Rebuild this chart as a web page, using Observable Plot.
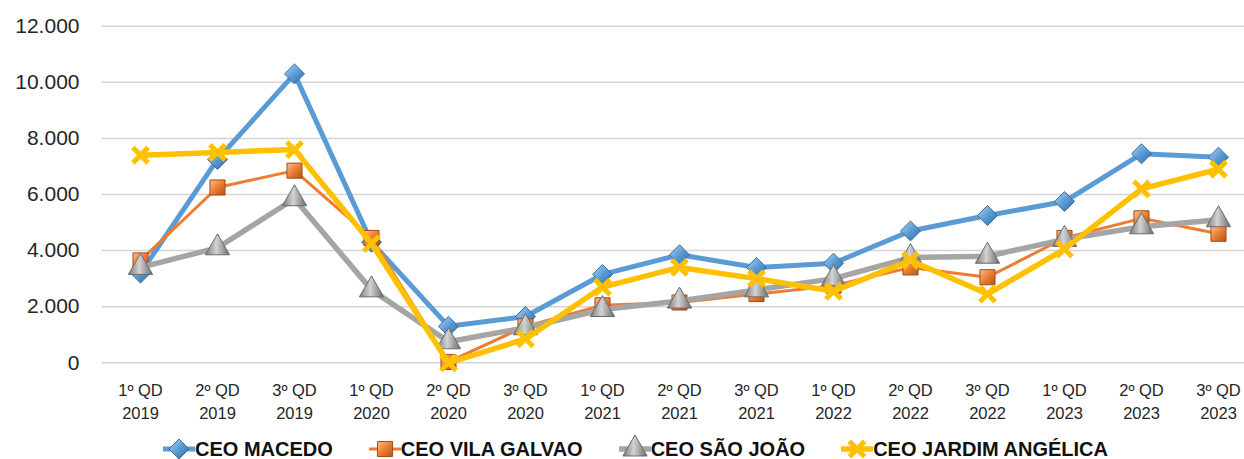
<!DOCTYPE html>
<html><head><meta charset="utf-8">
<script src="https://cdn.jsdelivr.net/npm/d3@7"></script>
<script src="https://cdn.jsdelivr.net/npm/@observablehq/plot@0.6"></script>
<style>
html,body{margin:0;padding:0;background:#fff;overflow:hidden;width:1244px;height:459px;position:relative;}
#chart svg{display:block;overflow:hidden;}
#legend{position:absolute;left:163px;top:434px;height:30px;display:flex;align-items:center;
  font-family:"Liberation Sans",Arial,sans-serif;font-weight:bold;font-size:20px;line-height:30px;color:#111;white-space:nowrap;}
#legend .item{display:flex;align-items:center;margin-right:36px;}
#legend svg{display:block;margin-right:0px;overflow:visible;}
</style></head><body>
<svg width="0" height="0" style="position:absolute">
  <defs>
    <linearGradient id="gBlue" x1="0" y1="0" x2="1" y2="1">
      <stop offset="0" stop-color="#b4d4f2"/><stop offset="0.5" stop-color="#5b9bd5"/><stop offset="1" stop-color="#2f6aa3"/>
    </linearGradient>
    <linearGradient id="gOrange" x1="0" y1="0" x2="1" y2="1">
      <stop offset="0" stop-color="#f9c096"/><stop offset="0.5" stop-color="#ed7d31"/><stop offset="1" stop-color="#b0531a"/>
    </linearGradient>
    <linearGradient id="gGray" x1="0" y1="0" x2="1" y2="0">
      <stop offset="0" stop-color="#7a7a7a"/><stop offset="0.45" stop-color="#d2d2d2"/><stop offset="1" stop-color="#6a6a6a"/>
    </linearGradient>
  </defs>
</svg>
<div id="chart"></div>
<div id="legend"></div>
<script>
// Categories (x axis)
const quarters = ["1º QD","2º QD","3º QD","1º QD","2º QD","3º QD","1º QD","2º QD","3º QD","1º QD","2º QD","3º QD","1º QD","2º QD","3º QD"];
const years    = ["2019","2019","2019","2020","2020","2020","2021","2021","2021","2022","2022","2022","2023","2023","2023"];

// Series values
const macedo         = [3200, 7250, 10300, 4300, 1300, 1650, 3150, 3850, 3400, 3550, 4700, 5250, 5750, 7450, 7330];
const vilaGalvao     = [3650, 6250, 6850, 4450, 30, 1300, 2050, 2150, 2450, 2750, 3400, 3050, 4450, 5150, 4600];
const saoJoao        = [3400, 4100, 5850, 2600, 750, 1250, 1900, 2200, 2600, 3000, 3750, 3800, 4400, 4850, 5100];
const jardimAngelica = [7400, 7500, 7600, 4250, 0, 850, 2700, 3400, 3000, 2550, 3650, 2450, 4050, 6200, 6900];

const seriesNames = ["CEO MACEDO", "CEO VILA GALVAO", "CEO SÃO JOÃO", "CEO JARDIM ANGÉLICA"];
const seriesValues = [macedo, vilaGalvao, saoJoao, jardimAngelica];

// Y ticks
const yTicks = [0, 2000, 4000, 6000, 8000, 10000, 12000];

// Styles per series
const styles = [
  {stroke: "#5B9BD5", lineWidth: 5, symbol: "diamond2", r: 9, fill: "url(#gBlue)", mstroke: "#3b6f9e", mwidth: 1},
  {stroke: "#ED7D31", lineWidth: 3, symbol: "square", r: 8.5, fill: "url(#gOrange)", mstroke: "#9e4d17", mwidth: 1},
  {stroke: "#A5A5A5", lineWidth: 5.5, symbol: "triangle", r: 9, fill: "url(#gGray)", mstroke: "#6a6a6a", mwidth: 1},
  {stroke: "#FFC000", lineWidth: 5.5, symbol: "times", r: 7, fill: "none", mstroke: "#FFC000", mwidth: 5}
];

const periods = quarters.map((q, i) => q + "\n" + years[i]);
const data = seriesNames.map((name, s) =>
  seriesValues[s].map((v, i) => ({series: name, period: periods[i], value: v})));

const ptLocale = d3.formatLocale({decimal: ",", thousands: ".", grouping: [3], currency: ["R$", ""]});
const fmt = ptLocale.format(",d");

const marks = [
  Plot.ruleY(yTicks, {stroke: "#d4d4d4", strokeWidth: 1.5}),
  Plot.axisY(yTicks, {tickSize: 0, tickPadding: 22.5, fontSize: 21, tickFormat: fmt, label: null}),
  Plot.axisX({tickSize: 0, tickPadding: 17.5, fontSize: 16.5, lineHeight: 1.36, tickFormat: d => d, label: null})
];
data.forEach((rows, s) => {
  const st = styles[s];
  marks.push(Plot.line(rows, {x: "period", y: "value", stroke: st.stroke, strokeWidth: st.lineWidth,
    strokeLinejoin: "round", strokeLinecap: "round"}));
  marks.push(Plot.dot(rows, {x: "period", y: "value", symbol: st.symbol, r: st.r,
    fill: st.fill, stroke: st.mstroke, strokeWidth: st.mwidth}));
});

const chart = Plot.plot({
  width: 1244,
  height: 430,
  marginTop: 25.7,
  marginBottom: 67.7,
  marginLeft: 101.5,
  marginRight: 0,
  style: {fontFamily: "'Liberation Sans', Arial, sans-serif", color: "#262626", background: "white", overflow: "hidden"},
  x: {type: "point", domain: periods, range: [101.5, 1256.5], padding: 0.5, axis: null},
  y: {domain: [0, 12000], axis: null},
  marks
});
document.getElementById("chart").appendChild(chart);

// Legend
const legend = d3.select("#legend");
seriesNames.forEach((name, s) => {
  const st = styles[s];
  const item = legend.append("div").attr("class", "item");
  const svg = item.append("svg").attr("width", 32).attr("height", 24);
  svg.append("line").attr("x1", 0).attr("x2", 32).attr("y1", 12).attr("y2", 12)
    .attr("stroke", st.stroke).attr("stroke-width", st.lineWidth);
  const sym = {diamond2: d3.symbolDiamond2, square: d3.symbolSquare, triangle: d3.symbolTriangle, times: d3.symbolTimes}[st.symbol];
  svg.append("path").attr("transform", "translate(16,12)")
    .attr("d", d3.symbol(sym, st.r * st.r * Math.PI)())
    .attr("fill", st.fill).attr("stroke", st.mstroke).attr("stroke-width", st.mwidth);
  item.append("span").text(name);
});
</script>
</body></html>
